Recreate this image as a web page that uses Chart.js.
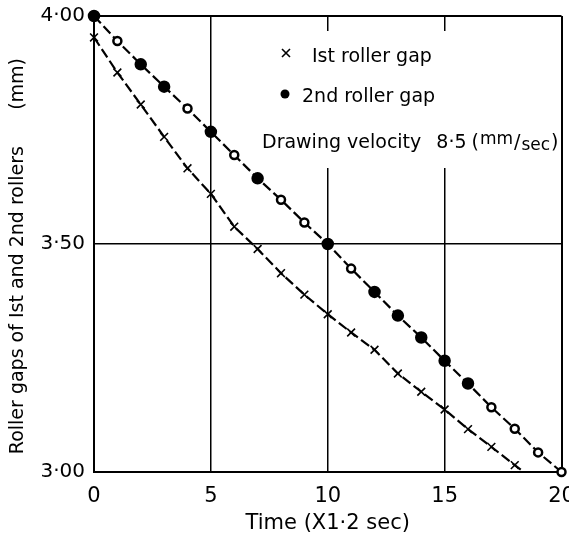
<!DOCTYPE html>
<html>
<head>
<meta charset="utf-8">
<script src="https://cdn.jsdelivr.net/npm/chart.js@4.4.0/dist/chart.umd.min.js"></script>
<style>
  html, body { margin: 0; padding: 0; background: #fff; }
  #wrap { width: 569px; height: 541px; }
</style>
</head>
<body>
<div id="wrap"><canvas id="gapChart"></canvas></div>
<script>
// values (time in units of 1.2 sec, gap in mm)
const firstTime = [0, 1, 2, 3, 4, 5, 6, 7, 8, 9, 10, 11, 12, 13, 14, 15, 16, 17, 18, 18.4];
const firstGap = [3.953, 3.876, 3.806, 3.735, 3.666, 3.610, 3.538, 3.489, 3.436, 3.389,
                  3.346, 3.306, 3.268, 3.216, 3.176, 3.137, 3.094, 3.055, 3.015, 3.000];

const secondTime = [0, 1, 2, 3, 4, 5, 6, 7, 8, 9, 10, 11, 12, 13, 14, 15, 16, 17, 18, 19, 20];
const secondGap = [4.000, 3.945, 3.894, 3.845, 3.797, 3.746, 3.695, 3.644, 3.597, 3.547,
                   3.500, 3.446, 3.395, 3.343, 3.295, 3.244, 3.194, 3.142, 3.095, 3.043, 3.000];
// which circles are drawn solid in the original
const secondSolid = [1, 0, 1, 1, 0, 1, 0, 1, 0, 0, 1, 0, 1, 1, 1, 1, 1, 0, 0, 0, 0];

const xTicks = [0, 5, 10, 15, 20];
const yTicks = [3.0, 3.5, 4.0];
const yTickLabels = ['3·00', '3·50', '4·00'];

const seriesNames = ['Ist roller gap', '2nd roller gap'];
const xTitle = 'Time (X1·2 sec)';
// trailing spaces nudge the centred title down a little, like the original
const yTitle = 'Roller gaps of Ist and 2nd rollers      (mm)    ';

const ink = '#000';
const fontFamily = '"DejaVu Sans", sans-serif';

// legend + velocity note drawn inside the plot, on a white patch like the original
const notesPlugin = {
  id: 'notes',
  afterDatasetsDraw(chart) {
    const ctx = chart.ctx;
    ctx.save();
    ctx.fillStyle = '#fff';
    ctx.fillRect(256, 31, 304, 137);

    ctx.strokeStyle = ink;
    ctx.fillStyle = ink;
    ctx.lineWidth = 1.6;
    // cross marker
    ctx.beginPath();
    ctx.moveTo(282, 49); ctx.lineTo(290, 57);
    ctx.moveTo(290, 49); ctx.lineTo(282, 57);
    ctx.stroke();
    // dot marker
    ctx.beginPath();
    ctx.arc(285, 94, 4.5, 0, Math.PI * 2);
    ctx.fill();

    ctx.textBaseline = 'alphabetic';
    ctx.font = '19px ' + fontFamily;
    ctx.fillText(seriesNames[0], 312, 62);
    ctx.fillText(seriesNames[1], 302, 102);

    let x = 262;
    const y = 148;
    const put = (txt, size, dy, gap) => {
      ctx.font = size + 'px ' + fontFamily;
      ctx.fillText(txt, x, y + dy);
      x += ctx.measureText(txt).width + gap;
    };
    put('Drawing velocity', 19, 0, 15);
    put('8·5', 19, 0, 5);
    put('(', 19, 0, 1);
    put('mm', 17, -4, 1);
    put('/', 19, 0, 1);
    put('sec', 17, 2, 1);
    put(')', 19, 0, 0);
    ctx.restore();
  }
};

new Chart(document.getElementById('gapChart'), {
  type: 'scatter',
  data: {
    datasets: [
      {
        label: seriesNames[0],
        data: firstTime.map((t, i) => ({ x: t, y: firstGap[i] })),
        showLine: true,
        clip: false,
        borderColor: ink,
        borderWidth: 2.2,
        borderDash: [10, 4],
        pointStyle: 'crossRot',
        pointRadius: ctx => (ctx.dataIndex === firstTime.length - 1 ? 0 : 5.5),
        pointBorderWidth: 1.6,
        pointBorderColor: ink,
        pointBackgroundColor: ink
      },
      {
        label: seriesNames[1],
        data: secondTime.map((t, i) => ({ x: t, y: secondGap[i] })),
        showLine: true,
        clip: false,
        borderColor: ink,
        borderWidth: 2.2,
        borderDash: [10, 4],
        pointStyle: 'circle',
        pointRadius: ctx => (secondSolid[ctx.dataIndex] ? 5 : 4),
        pointBorderWidth: 2.5,
        pointBorderColor: ink,
        pointBackgroundColor: ctx => (secondSolid[ctx.dataIndex] ? ink : '#fff')
      }
    ]
  },
  options: {
    responsive: true,
    maintainAspectRatio: false,
    animation: false,
    devicePixelRatio: 1,
    layout: { padding: { top: 16, right: 3, left: 0, bottom: 0 } },
    plugins: {
      legend: { display: false },
      tooltip: { enabled: false }
    },
    scales: {
      x: {
        type: 'linear',
        min: 0,
        max: 20,
        afterBuildTicks: s => { s.ticks = xTicks.map(v => ({ value: v })); },
        afterFit: s => { s.height = 69; s.paddingLeft = 0; s.paddingRight = 0; },
        grid: {
          color: ink,
          lineWidth: c => (c.tick && (c.tick.value === 0 || c.tick.value === 20) ? 2 : 1.5),
          drawTicks: false
        },
        border: { display: true, color: ink, width: 2 },
        ticks: { color: ink, font: { family: fontFamily, size: 21 }, padding: 12, maxRotation: 0 },
        title: {
          display: true,
          text: xTitle,
          color: ink,
          font: { family: fontFamily, size: 21 },
          padding: { top: 0, bottom: 5 }
        }
      },
      y: {
        min: 3,
        max: 4,
        afterBuildTicks: s => { s.ticks = yTicks.map(v => ({ value: v })); },
        afterFit: s => { s.width = 94; s.paddingTop = 0; s.paddingBottom = 0; },
        grid: {
          color: ink,
          lineWidth: c => (c.tick && (c.tick.value === 3 || c.tick.value === 4) ? 2 : 1.5),
          drawTicks: false
        },
        border: { display: true, color: ink, width: 2 },
        ticks: {
          color: ink,
          font: { family: fontFamily, size: 20 },
          padding: 9,
          callback: v => yTickLabels[yTicks.indexOf(v)]
        },
        title: {
          display: true,
          text: yTitle,
          color: ink,
          font: { family: fontFamily, size: 19 },
          padding: { top: 7, bottom: 0 }
        }
      }
    }
  },
  plugins: [notesPlugin]
});
</script>
</body>
</html>
